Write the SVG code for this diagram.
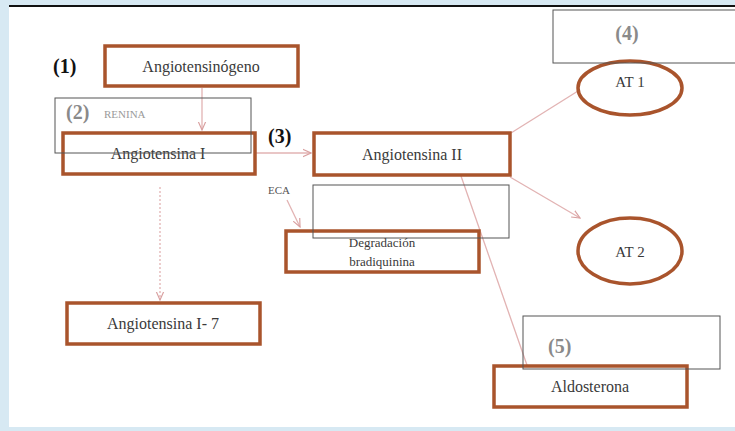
<svg xmlns="http://www.w3.org/2000/svg" width="735" height="431" viewBox="0 0 735 431">
<defs>
<style>
.box{fill:#fff;stroke:#a9542c;stroke-width:3.5}
.ell{fill:#fff;stroke:#a9542c;stroke-width:3.5}
.t{font-family:"Liberation Serif",serif;font-size:16px;fill:#3a3a3a;text-anchor:middle}
.ts{font-family:"Liberation Serif",serif;font-size:13px;fill:#3a3a3a;text-anchor:middle}
.te{font-family:"Liberation Serif",serif;font-size:15px;fill:#3a3a3a;text-anchor:middle}
.num{font-family:"Liberation Serif",serif;font-size:20px;font-weight:bold;fill:#111}
.numg{font-family:"Liberation Serif",serif;font-size:20px;font-weight:bold;fill:#8a8a8a}
.lab{fill:none;stroke:#555;stroke-width:1}
.con{fill:none;stroke:#e2b3b3;stroke-width:1.3}
</style>
<marker id="ah" viewBox="0 0 10 10" refX="9" refY="5" markerWidth="7" markerHeight="7" orient="auto-start-reverse">
<path d="M0,1 L9,5 L0,9" fill="none" stroke="#d9a0a0" stroke-width="1.3"/>
</marker>
</defs>
<rect x="0" y="0" width="735" height="431" fill="#d7e9f3"/>
<rect x="9" y="6" width="726" height="421" fill="#fff"/>
<line x1="9" y1="6" x2="735" y2="6" stroke="#111" stroke-width="2"/>

<g id="connectors">
<line class="con" x1="202" y1="88" x2="202" y2="130" marker-end="url(#ah)"/>
<line class="con" x1="256" y1="153" x2="311" y2="153" marker-end="url(#ah)"/>
<line class="con" x1="160" y1="187" x2="160" y2="300" stroke-dasharray="2,2" stroke="#cfc3c8" marker-end="url(#ah)"/>
<line class="con" x1="287" y1="200" x2="300" y2="227" marker-end="url(#ah)"/>
<line class="con" x1="511" y1="133" x2="578" y2="91"/>
<line class="con" x1="510" y1="177" x2="580" y2="218" marker-end="url(#ah)"/>
<line class="con" x1="461" y1="176" x2="528" y2="368"/>
</g>

<g id="n1">
<rect class="box" x="105" y="46" width="193" height="40"/>
<text class="t" x="201" y="72">Angiotensinógeno</text>
</g>
<g id="n-ang1">
<rect class="box" x="63" y="133" width="192" height="41"/>
<text class="t" x="158" y="159">Angiotensina I</text>
</g>
<g id="n-ang2">
<rect class="box" x="314" y="133" width="196" height="42"/>
<text class="t" x="412" y="160">Angiotensina II</text>
</g>
<g id="n-degr">
<rect class="box" x="286" y="231" width="193" height="41"/>
<text class="ts" x="382" y="247">Degradación</text>
<text class="ts" x="382" y="266">bradiquinina</text>
</g>
<g id="n-ang17">
<rect class="box" x="67" y="303" width="193" height="41"/>
<text class="t" x="163" y="329">Angiotensina I- 7</text>
</g>
<g id="n-aldo">
<rect class="box" x="494" y="366" width="193" height="41"/>
<text class="t" x="590" y="392">Aldosterona</text>
</g>
<g id="n-at1">
<ellipse class="ell" cx="630" cy="88" rx="52" ry="27"/>
<text class="te" x="630" y="87">AT 1</text>
</g>
<g id="n-at2">
<ellipse class="ell" cx="630" cy="251" rx="52" ry="33"/>
<text class="te" x="630" y="257">AT 2</text>
</g>

<g id="labels">
<text class="num" x="53" y="73">(1)</text>
<rect class="lab" x="55" y="98" width="196" height="55"/>
<text class="numg" x="66" y="119" font-size="18">(2)</text>
<text x="104" y="118" font-family="Liberation Serif,serif" font-size="11" fill="#9a9a9a">RENINA</text>
<text class="num" x="268" y="143">(3)</text>
<text x="268" y="194" font-family="Liberation Serif,serif" font-size="11" fill="#555">ECA</text>
<rect class="lab" x="313" y="185" width="196" height="53"/>
<rect class="lab" x="553" y="10" width="190" height="53"/>
<text class="numg" x="627" y="40" text-anchor="middle">(4)</text>
<rect class="lab" x="523" y="316" width="197" height="53"/>
<text class="numg" x="548" y="353">(5)</text>
</g>
</svg>
